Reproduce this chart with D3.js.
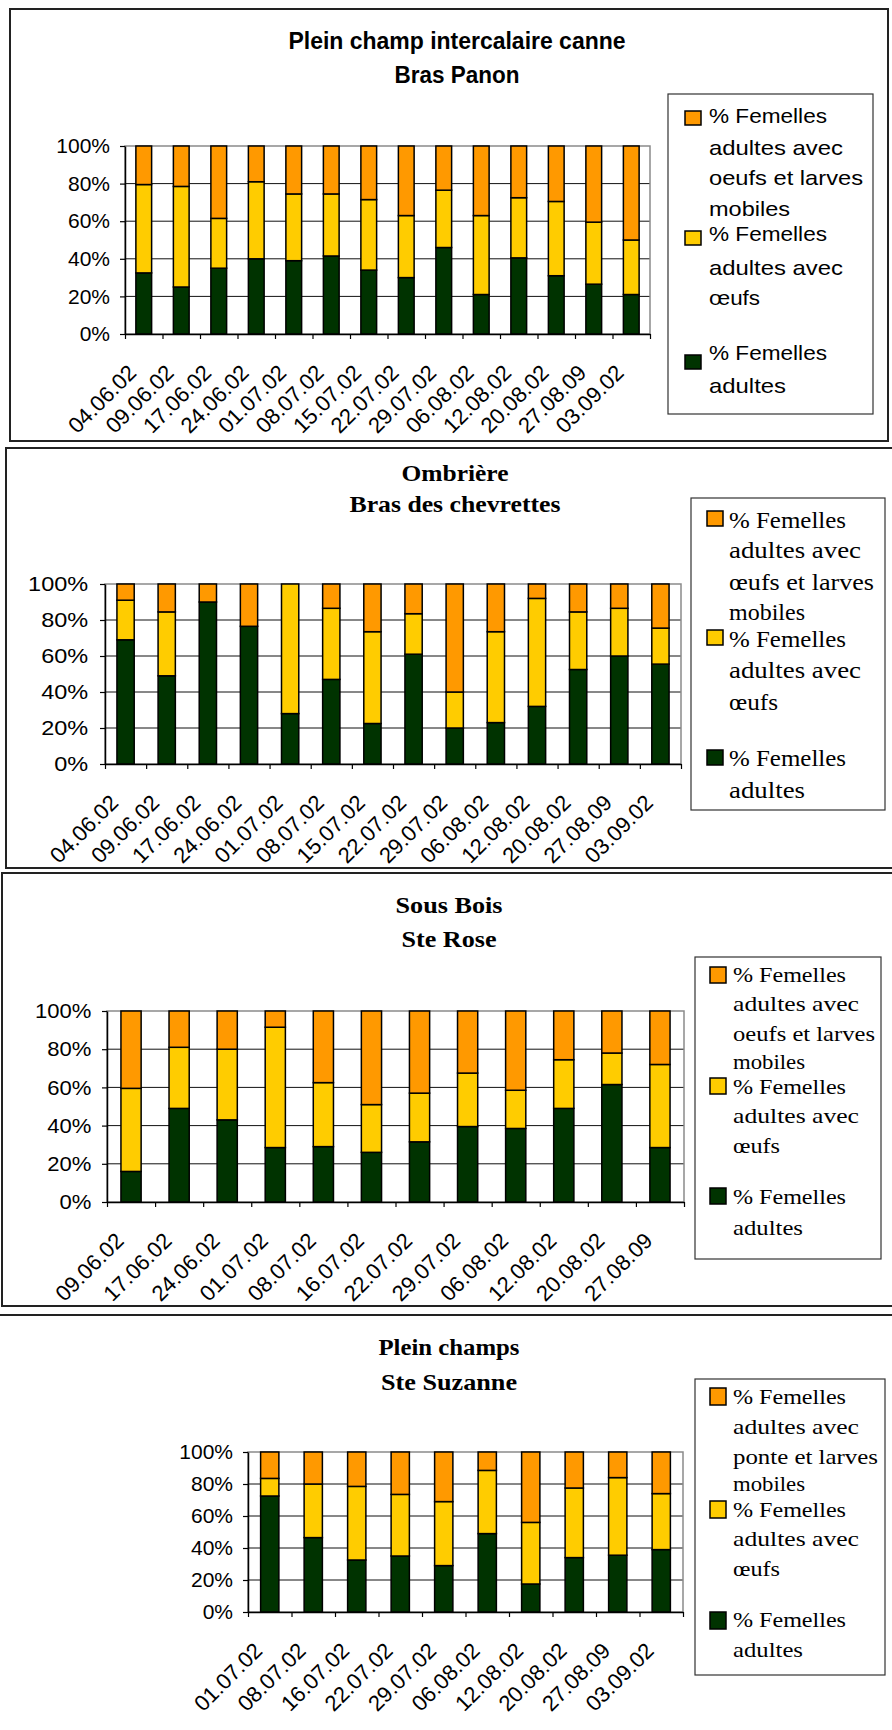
<!DOCTYPE html>
<html>
<head>
<meta charset="utf-8">
<script src="https://cdn.jsdelivr.net/npm/d3@7"></script>
<style>
  html, body { margin: 0; padding: 0; background: #fff; }
  svg { display: block; }
</style>
</head>
<body>
<script>
// ---- Data: % of adult females per stage, one block per site ----
const stageKeys = ["adultes", "oeufs", "larves"];

// Plein champ intercalaire canne – Bras Panon
const dates1   = ["04.06.02","09.06.02","17.06.02","24.06.02","01.07.02","08.07.02","15.07.02","22.07.02","29.07.02","06.08.02","12.08.02","20.08.02","27.08.09","03.09.02"];
const adultes1 = [32.5, 25, 35, 40, 39, 41.5, 34, 30, 46, 21, 40.5, 31, 26.5, 21];
const oeufs1   = [47, 53.5, 26.5, 41, 35.5, 33, 37.5, 33, 30.5, 42, 32, 39.5, 33, 29];
const larves1  = [20.5, 21.5, 38.5, 19, 25.5, 25.5, 28.5, 37, 23.5, 37, 27.5, 29.5, 40.5, 50];

// Ombrière – Bras des chevrettes
const dates2   = ["04.06.02","09.06.02","17.06.02","24.06.02","01.07.02","08.07.02","15.07.02","22.07.02","29.07.02","06.08.02","12.08.02","20.08.02","27.08.09","03.09.02"];
const adultes2 = [69, 49, 90, 76.5, 28, 47, 22.5, 61, 20, 23, 32, 52.5, 60, 55.5];
const oeufs2   = [22, 35.5, 0, 0, 72, 39.5, 51, 22.5, 20, 50.5, 60, 32, 26.5, 20];
const larves2  = [9, 15.5, 10, 23.5, 0, 13.5, 26.5, 16.5, 60, 26.5, 8, 15.5, 13.5, 24.5];

// Sous Bois – Ste Rose
const dates3   = ["09.06.02","17.06.02","24.06.02","01.07.02","08.07.02","16.07.02","22.07.02","29.07.02","06.08.02","12.08.02","20.08.02","27.08.09"];
const adultes3 = [16, 49, 43, 28.5, 29, 26, 31.5, 39.5, 38.5, 49, 61.5, 28.5];
const oeufs3   = [43.5, 32, 37, 63, 33.5, 25, 25.5, 28, 20, 25.5, 16.5, 43.5];
const larves3  = [40.5, 19, 20, 8.5, 37.5, 49, 43, 32.5, 41.5, 25.5, 22, 28];

// Plein champs – Ste Suzanne
const dates4   = ["01.07.02","08.07.02","16.07.02","22.07.02","29.07.02","06.08.02","12.08.02","20.08.02","27.08.09","03.09.02"];
const adultes4 = [72.5, 46.5, 32.5, 35, 29, 49, 17.5, 34, 35.5, 39];
const oeufs4   = [11, 33.5, 46, 38.5, 40, 39.5, 38.5, 43.5, 48.5, 35];
const larves4  = [16.5, 20, 21.5, 26.5, 31, 11.5, 44, 22.5, 16, 26];

const yTicks = [0, 20, 40, 60, 80, 100];

// Legend texts (top to bottom: larves, oeufs, adultes)
const legend1 = [["% Femelles","adultes avec","oeufs et larves","mobiles"],["% Femelles","adultes avec","œufs"],["% Femelles","adultes"]];
const legend2 = [["% Femelles","adultes avec","œufs et larves","mobiles"],["% Femelles","adultes avec","œufs"],["% Femelles","adultes"]];
const legend3 = [["% Femelles","adultes avec","oeufs et larves","mobiles"],["% Femelles","adultes avec","œufs"],["% Femelles","adultes"]];
const legend4 = [["% Femelles","adultes avec","ponte et larves","mobiles"],["% Femelles","adultes avec","œufs"],["% Femelles","adultes"]];

// ---- Drawing ----
const SANS = "'Liberation Sans', Arial, sans-serif";
const SERIF = "'Liberation Serif', 'Times New Roman', serif";
const fills = { larves: "#FF9900", oeufs: "#FFCC00", adultes: "#003300" };
const legendOrder = ["larves", "oeufs", "adultes"];

const svg = d3.select("body").append("svg").attr("width", 892).attr("height", 1730);

function label(g, str, x, y, o) {
  const t = g.append("text").attr("x", x).attr("y", y).text(str)
    .attr("font-family", o.family).attr("font-size", o.size)
    .attr("font-weight", o.weight || "normal")
    .attr("text-anchor", o.anchor || "start").attr("fill", "#000");
  if (o.width) t.attr("textLength", o.width).attr("lengthAdjust", "spacingAndGlyphs");
  return t;
}

function drawPanel(c) {
  const g = svg.append("g");

  // outer frame
  if (c.frame) {
    g.append("rect").attr("x", c.frame[0]).attr("y", c.frame[1])
      .attr("width", c.frame[2]).attr("height", c.frame[3])
      .attr("fill", "none").attr("stroke", "#222").attr("stroke-width", 2);
  } else {
    g.append("line").attr("x1", 0).attr("x2", 892).attr("y1", c.topLine).attr("y2", c.topLine)
      .attr("stroke", "#222").attr("stroke-width", 2);
  }

  // titles
  c.titles.forEach(t => label(g, t.text, c.titleX, t.y,
    { family: c.titleFont, size: c.titleSize, weight: "bold", anchor: "middle", width: t.w }));

  const rows = c.dates.map((d, i) => ({ date: d, adultes: c.adultes[i], oeufs: c.oeufs[i], larves: c.larves[i] }));
  const p = c.plot;
  const x = d3.scaleBand().domain(c.dates).range([p.x0, p.x1]).paddingInner(0.58).paddingOuter(0.29);
  const y = d3.scaleLinear().domain([0, 100]).range([p.y1, p.y0]);
  const xi = d3.scaleLinear().domain([0, c.dates.length]).range([p.x0, p.x1]);

  // gridlines
  g.append("g").selectAll("line").data(yTicks.filter(v => v > 0 && v < 100)).join("line")
    .attr("x1", p.x0).attr("x2", p.x1).attr("y1", d => y(d)).attr("y2", d => y(d))
    .attr("stroke", "#111").attr("stroke-width", 1);

  // plot area border
  g.append("rect").attr("x", p.x0).attr("y", y(100)).attr("width", p.x1 - p.x0).attr("height", y(0) - y(100))
    .attr("fill", "none").attr("stroke", "#8a8a8a").attr("stroke-width", 1.5);

  // stacked bars
  const stacked = d3.stack().keys(stageKeys)(rows);
  g.append("g").selectAll("g").data(stacked).join("g")
    .attr("fill", s => fills[s.key])
    .selectAll("rect").data(s => s).join("rect")
    .attr("x", d => x(d.data.date)).attr("width", x.bandwidth())
    .attr("y", d => y(d[1])).attr("height", d => y(d[0]) - y(d[1]))
    .attr("stroke", "#000").attr("stroke-width", 1.5);

  // y axis
  const ya = g.append("g").attr("transform", `translate(${p.x0},0)`)
    .call(d3.axisLeft(y).tickValues(yTicks).tickFormat(d => d + "%").tickSize(5).tickSizeOuter(0).tickPadding(10));
  ya.selectAll("text").attr("font-family", SANS).attr("font-size", c.ySize).attr("fill", "#000")
    .attr("transform", `scale(${c.yStretch},1)`);
  ya.selectAll("line").attr("stroke", "#000").attr("stroke-width", 1.2);
  ya.select(".domain").attr("stroke", "#000").attr("stroke-width", 1.5);

  // x axis: ticks between categories
  const xa = g.append("g").attr("transform", `translate(0,${p.y1})`)
    .call(d3.axisBottom(xi).tickValues(d3.range(c.dates.length + 1)).tickFormat("").tickSize(5).tickSizeOuter(0));
  xa.selectAll("line").attr("stroke", "#000").attr("stroke-width", 1.2);
  xa.select(".domain").attr("stroke", "#000").attr("stroke-width", 1.5);

  // rotated category labels
  g.append("g").selectAll("text").data(c.dates).join("text")
    .attr("transform", d => `translate(${x(d) + x.bandwidth() / 2 - 6},${p.y1 + 40}) rotate(-45)`)
    .attr("text-anchor", "end").attr("font-family", SANS).attr("font-size", c.xSize).attr("fill", "#000")
    .text(d => d);

  // legend
  const L = c.legend;
  g.append("rect").attr("x", L.box[0]).attr("y", L.box[1]).attr("width", L.box[2]).attr("height", L.box[3])
    .attr("fill", "#fff").attr("stroke", "#333").attr("stroke-width", 1.2);
  legendOrder.forEach((k, gi) => {
    g.append("rect").attr("x", L.swX).attr("y", L.swY[gi]).attr("width", L.swW).attr("height", L.swH)
      .attr("fill", fills[k]).attr("stroke", "#000").attr("stroke-width", 1.5);
    c.legendText[gi].forEach((line, li) => {
      label(g, line, L.textX, L.baselines[gi][li],
        { family: c.legendFont, size: L.size, width: L.widths[line] });
    });
  });
}

drawPanel({
  frame: [10, 9, 878, 432],
  titleFont: SANS, titleSize: 23, titleX: 457,
  titles: [{ text: "Plein champ intercalaire canne", y: 49, w: 337 }, { text: "Bras Panon", y: 83, w: 125 }],
  dates: dates1, adultes: adultes1, oeufs: oeufs1, larves: larves1,
  plot: { x0: 125, x1: 650, y0: 146, y1: 334 },
  ySize: 21, yStretch: 1, xSize: 22,
  legendFont: SANS, legendText: legend1,
  legend: {
    box: [668, 94, 205, 320], swX: 685, swW: 16, swH: 14, swY: [111, 231, 355], textX: 709, size: 21,
    baselines: [[123, 155, 185, 216], [241, 275, 305], [360, 393]],
    widths: { "% Femelles": 118, "adultes avec": 134, "oeufs et larves": 154, "mobiles": 81, "œufs": 51, "adultes": 77 }
  }
});

drawPanel({
  frame: [6, 448, 890, 420],
  titleFont: SERIF, titleSize: 24, titleX: 455,
  titles: [{ text: "Ombrière", y: 481, w: 107 }, { text: "Bras des chevrettes", y: 512, w: 211 }],
  dates: dates2, adultes: adultes2, oeufs: oeufs2, larves: larves2,
  plot: { x0: 105, x1: 681, y0: 584, y1: 764 },
  ySize: 21, yStretch: 1.12, xSize: 22,
  legendFont: SERIF, legendText: legend2,
  legend: {
    box: [691, 498, 194, 312], swX: 707, swW: 16, swH: 15, swY: [511, 630, 750], textX: 729, size: 23,
    baselines: [[528, 558, 590, 620], [647, 678, 710], [766, 798]],
    widths: { "% Femelles": 117, "adultes avec": 132, "œufs et larves": 145, "mobiles": 76, "œufs": 49, "adultes": 76 }
  }
});

drawPanel({
  frame: [2, 873, 895, 433],
  titleFont: SERIF, titleSize: 24, titleX: 449,
  titles: [{ text: "Sous Bois", y: 913, w: 107 }, { text: "Ste Rose", y: 947, w: 95 }],
  dates: dates3, adultes: adultes3, oeufs: oeufs3, larves: larves3,
  plot: { x0: 107, x1: 684, y0: 1011, y1: 1202 },
  ySize: 21, yStretch: 1.05, xSize: 22,
  legendFont: SERIF, legendText: legend3,
  legend: {
    box: [695, 957, 186, 302], swX: 710, swW: 16, swH: 16, swY: [967, 1078, 1188], textX: 733, size: 22,
    baselines: [[982, 1011, 1041, 1069], [1094, 1123, 1153], [1204, 1235]],
    widths: { "% Femelles": 113, "adultes avec": 126, "oeufs et larves": 142, "mobiles": 72, "œufs": 47, "adultes": 70 }
  }
});

drawPanel({
  topLine: 1315,
  titleFont: SERIF, titleSize: 24, titleX: 449,
  titles: [{ text: "Plein champs", y: 1355, w: 141 }, { text: "Ste Suzanne", y: 1390, w: 136 }],
  dates: dates4, adultes: adultes4, oeufs: oeufs4, larves: larves4,
  plot: { x0: 248, x1: 683, y0: 1452, y1: 1612 },
  ySize: 21, yStretch: 1, xSize: 22,
  legendFont: SERIF, legendText: legend4,
  legend: {
    box: [695, 1379, 190, 296], swX: 710, swW: 16, swH: 17, swY: [1388, 1501, 1612], textX: 733, size: 22,
    baselines: [[1404, 1434, 1464, 1491], [1517, 1546, 1576], [1627, 1657]],
    widths: { "% Femelles": 113, "adultes avec": 126, "ponte et larves": 145, "mobiles": 72, "œufs": 47, "adultes": 70 }
  }
});
</script>
</body>
</html>
